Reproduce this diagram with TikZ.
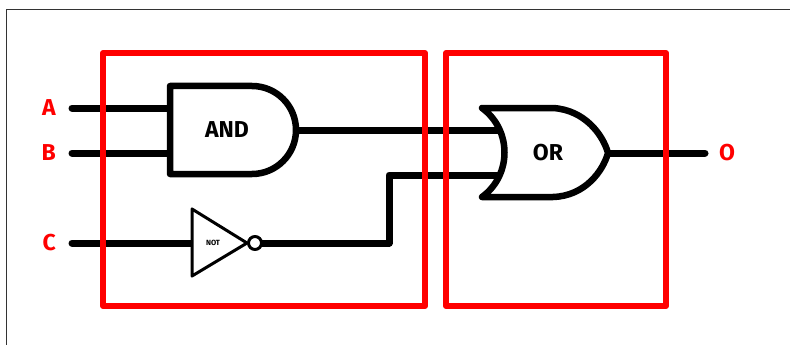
\documentclass[tikz,border=0pt]{standalone}
\usepackage{fontspec}
\setsansfont{Fira Sans}
\usetikzlibrary{positioning}
\definecolor{framegray}{RGB}{51,51,51}

\tikzset{
  wire/.style={line width=7pt,line cap=round,line join=round},
  gate/.style={draw,fill=white,line width=6.5pt,line join=round},
  notgate/.style={draw,fill=white,line width=3pt,line join=round},
  block/.style={draw=red,line width=6pt,line join=round},
  frame/.style={draw=framegray,line width=1pt},
  gatetext/.style={font=\sffamily\bfseries\fontsize{23}{23}\selectfont,inner sep=0pt},
  nottext/.style={font=\sffamily\bfseries\fontsize{7.5}{7.5}\selectfont,inner sep=0pt},
  pinlabel/.style={text=red,font=\sffamily\bfseries\fontsize{23}{23}\selectfont,inner sep=0pt}
}

\begin{document}
\begin{tikzpicture}[x=1pt,y=-1pt]
                \useasboundingbox (0,0) rectangle (790,345);
                \draw[frame] (6,345) -- (6,10) -- (790,10);

                \coordinate (pinA) at (72,108);
                \coordinate (pinB) at (72,153);
                \coordinate (pinC) at (72,243);
                \coordinate (pinO) at (705,153);
                \coordinate (and-in1) at (172,108);
                \coordinate (and-in2) at (172,153);
                \coordinate (and-out) at (294,130);
                \coordinate (or-in1) at (505,130);
                \coordinate (or-in2) at (505,175);
                \coordinate (or-out) at (606,153);
                \coordinate (not-in) at (194,243);
                \coordinate (not-out) at (260,243);
                \coordinate (bend) at (389,243);

                \draw[wire] (pinA) -- (and-in1);
                \draw[wire] (pinB) -- (and-in2);
                \draw[wire] (pinC) -- (not-in);
                \draw[wire] (and-out) -- (or-in1);
                \draw[wire] (not-out) -- (bend) |- (or-in2);
                \draw[wire] (or-out) -- (pinO);

                \draw[gate] (170,86) -- (252,86) arc[start angle=-90,end angle=90,radius=44]
                    -- (170,174) -- cycle;
                \draw[gate] (482,108) -- (553,108) .. controls (585,110) and (603,135) .. (608,153)
                    .. controls (603,171) and (585,196) .. (553,197) -- (482,197)
                    .. controls (512,175) and (512,130) .. (482,108) -- cycle;
                \draw[notgate] (192,209) -- (247,243) -- (192,276) -- cycle;
                \draw[notgate] (255,243) circle[radius=6.5];

                \node[gatetext] (and) at (227,130) {AND};
                \node[gatetext] (or) at (548,153) {OR};
                \node[nottext] (not) at (213,243) {NOT};

                \draw[block] (103,53) rectangle (425,306);
                \draw[block] (446,53) rectangle (666,306);

                \node[pinlabel, left=16pt of pinA] (A) {A};
                \node[pinlabel, left=16pt of pinB] (B) {B};
                \node[pinlabel, left=16pt of pinC] (C) {C};
                \node[pinlabel, right=14pt of pinO] (O) {O};
\end{tikzpicture}
\end{document}
